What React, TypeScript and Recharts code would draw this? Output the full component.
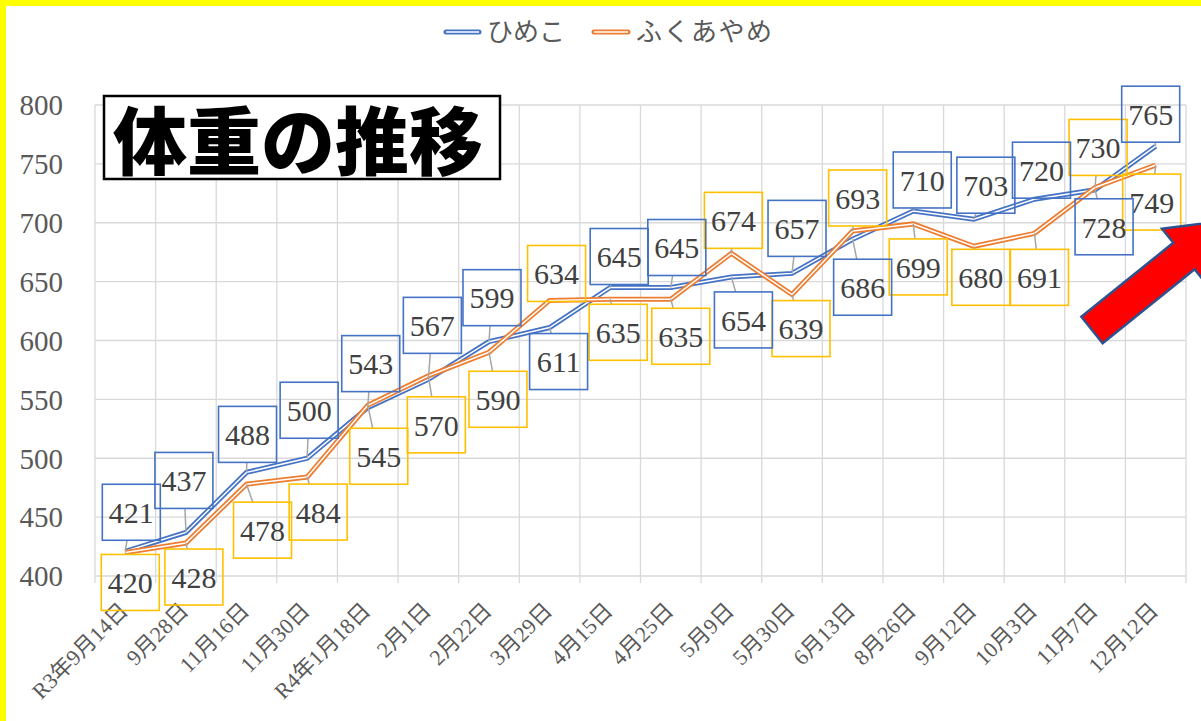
import React from 'react';
import {
  LineChart,
  Line,
  XAxis,
  YAxis,
  CartesianGrid,
  LabelList,
} from 'recharts';

const dates = [
  'R3年9月14日', '9月28日', '11月16日', '11月30日', 'R4年1月18日', '2月1日',
  '2月22日', '3月29日', '4月15日', '4月25日', '5月9日', '5月30日',
  '6月13日', '8月26日', '9月12日', '10月3日', '11月7日', '12月12日',
];
const himeko = [421, 437, 488, 500, 543, 567, 599, 611, 645, 645, 654, 657, 686, 710, 703, 720, 728, 765];
const fukuayame = [420, 428, 478, 484, 545, 570, 590, 634, 635, 635, 674, 639, 693, 699, 680, 691, 730, 749];
const yTicks = [400, 450, 500, 550, 600, 650, 700, 750, 800];

// label box placement relative to its point (dx, dy), as moved by hand in the original
const himekoLabelShift = [
  [6, -39], [-2, -52], [1, -38], [2, -48], [3, -44], [4, -54], [3, -44], [9, 34], [9, -31],
  [6, -40], [12, 43], [5, -45], [10, 48], [9, -31], [12, -34], [7, -29], [9, 37], [-5, -32],
];
const fukuLabelShift = [
  [5, 30], [8, 34], [16, 46], [11, 35], [11, 51], [8, 49], [9, 47], [7, -27], [8, 33],
  [10, 37], [2, -33], [9, 34], [5, -33], [5, 43], [7, 31], [5, 44], [3, -40], [-4, 37],
];

const rows = dates.map((date, i) => ({ date, himeko: himeko[i], fuku: fukuayame[i] }));

const W = 1201;
const H = 721;
const PLOT_LEFT = 95;
const PLOT_RIGHT = 1186;
const STEP = (PLOT_RIGHT - PLOT_LEFT) / dates.length;
const GRID = '#D9D9D9';
const BLUE = '#4472C4';
const ORANGE = '#ED7D31';
const SERIF = '"Liberation Serif", "Noto Sans CJK JP", serif';
const JP = '"Noto Sans CJK JP", sans-serif';

function XTick(props: any) {
  const { x, y, payload, index } = props;
  const half = STEP / 2;
  const tx = x + 4;
  const ty = y + 36;
  return (
    <g>
      <line x1={x + half} x2={x + half} y1={y} y2={y + 7} stroke={GRID} strokeWidth={1.3} />
      {index === 0 && <line x1={x - half} x2={x - half} y1={y} y2={y + 7} stroke={GRID} strokeWidth={1.3} />}
      <text
        x={tx}
        y={ty}
        textAnchor="end"
        transform={`rotate(-45 ${tx} ${ty})`}
        fill="#595959"
        fontSize={22}
        fontFamily={SERIF}
      >
        {payload.value}
      </text>
    </g>
  );
}

function DataBox(props: any) {
  const { x, y, value, index, color, shifts } = props;
  if (x == null || y == null) return null;
  const [dx, dy] = shifts[index] || [0, -40];
  const cx = x + dx;
  const cy = y + dy;
  const hw = 29;
  const hh = 28;
  // leader line from point to the box edge
  let leader = null;
  const vx = x - cx;
  const vy = y - cy;
  if (Math.abs(vx) > hw || Math.abs(vy) > hh) {
    const s = Math.min(vx !== 0 ? hw / Math.abs(vx) : Infinity, vy !== 0 ? hh / Math.abs(vy) : Infinity);
    leader = (
      <line x1={x} y1={y} x2={cx + vx * s} y2={cy + vy * s} stroke="#A6A6A6" strokeWidth={1.5} />
    );
  }
  return (
    <g>
      {leader}
      <rect x={cx - hw} y={cy - hh} width={hw * 2} height={hh * 2} fill="none" stroke={color} strokeWidth={1.6} />
      <text
        x={cx}
        y={cy}
        dy="0.36em"
        textAnchor="middle"
        fill="#404040"
        fontSize={30}
        fontFamily={SERIF}
      >
        {value}
      </text>
    </g>
  );
}

function Overlay() {
  // arrow drawn along its own axis, then turned
  const arrow = 'M0,-17 L118,-17 L118,-35 L175,0 L118,35 L118,17 L0,17 Z';
  return (
    <svg width={W} height={H} style={{ position: 'absolute', left: 0, top: 0, pointerEvents: 'none' }}>
      {/* legend */}
      <line x1={446} x2={479} y1={32} y2={32} stroke={BLUE} strokeWidth={5} strokeLinecap="round" />
      <line x1={446} x2={479} y1={32} y2={32} stroke="#fff" strokeWidth={1.5} />
      <text x={487} y={41} fontSize={26} fill="#595959" fontFamily={JP}>ひめこ</text>
      <line x1={594} x2={628} y1={32} y2={32} stroke={ORANGE} strokeWidth={5} strokeLinecap="round" />
      <line x1={594} x2={628} y1={32} y2={32} stroke="#fff" strokeWidth={1.5} />
      <text x={636} y={41} fontSize={26} fill="#595959" fontFamily={JP} letterSpacing={1.5}>ふくあやめ</text>

      {/* title */}
      <rect x={104} y={96} width={396} height={83} fill="#fff" stroke="#000" strokeWidth={2.5} />
      <text x={113} y={169} fontSize={74} fontWeight={900} fill="#000" fontFamily={JP}>体重の推移</text>

      {/* red arrow */}
      <path
        d={arrow}
        transform="translate(1092 330) rotate(-38.8)"
        fill="#FF0000"
        stroke="#2F528F"
        strokeWidth={2.5}
        strokeLinejoin="miter"
      />

      {/* yellow frame */}
      <rect x={0} y={0} width={W} height={6} fill="#FFFF00" />
      <rect x={0} y={0} width={6} height={H} fill="#FFFF00" />
    </svg>
  );
}

export default function App() {
  return (
    <div style={{ position: 'absolute', left: 0, top: 0, width: W, height: H, background: '#fff', overflow: 'hidden' }}>
      <LineChart
        width={W}
        height={H}
        data={rows}
        margin={{ top: 105, right: W - PLOT_RIGHT, left: PLOT_LEFT - 60, bottom: 45 }}
      >
        <CartesianGrid
          stroke={GRID}
          strokeWidth={1.3}
          verticalCoordinatesGenerator={(args: any) => {
            const left = args?.offset?.left ?? PLOT_LEFT;
            const width = args?.offset?.width ?? PLOT_RIGHT - PLOT_LEFT;
            return dates.map((_, i) => left + (i * width) / dates.length).concat(left + width);
          }}
        />
        <XAxis
          dataKey="date"
          interval={0}
          axisLine={false}
          tickLine={false}
          tickSize={0}
          tickMargin={0}
          height={100}
          padding={{ left: STEP / 2, right: STEP / 2 }}
          tick={<XTick />}
        />
        <YAxis
          width={60}
          domain={[400, 800]}
          ticks={yTicks}
          axisLine={false}
          tickLine={false}
          tickSize={0}
          tickMargin={32}
          tick={{ fill: '#595959', fontSize: 29, fontFamily: SERIF }}
        />
        <Line id="h-outer" dataKey="himeko" stroke={BLUE} strokeWidth={5} dot={false} isAnimationActive={false} />
        <Line id="h-inner" dataKey="himeko" stroke="#fff" strokeWidth={1.5} dot={false} isAnimationActive={false} />
        <Line id="f-outer" dataKey="fuku" stroke={ORANGE} strokeWidth={5} dot={false} isAnimationActive={false} />
        <Line id="f-inner" dataKey="fuku" stroke="#fff" strokeWidth={1.5} dot={false} isAnimationActive={false}>
          <LabelList dataKey="fuku" content={(p: any) => <DataBox {...p} color="#FFC000" shifts={fukuLabelShift} />} />
        </Line>
        <Line id="h-label" dataKey="himeko" stroke="none" dot={false} isAnimationActive={false}>
          <LabelList dataKey="himeko" content={(p: any) => <DataBox {...p} color={BLUE} shifts={himekoLabelShift} />} />
        </Line>
      </LineChart>
      <Overlay />
    </div>
  );
}
